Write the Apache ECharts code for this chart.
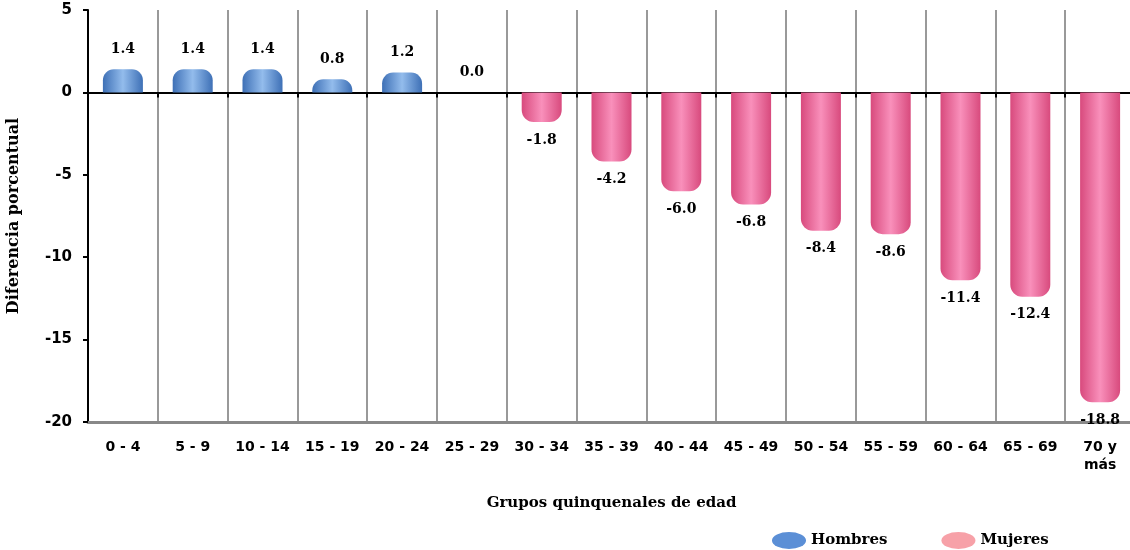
<!DOCTYPE html>
<html>
<head>
<meta charset="utf-8">
<script src="https://cdn.jsdelivr.net/npm/echarts@6/dist/echarts.min.js"></script>
<style>
  html, body { margin: 0; padding: 0; background: #fff; }
  #chart { width: 1130px; height: 550px; }
</style>
</head>
<body>
<div id="chart"></div>
<script>
// grupos de edad
var categories = ['0 - 4', '5 - 9', '10 - 14', '15 - 19', '20 - 24', '25 - 29', '30 - 34', '35 - 39',
  '40 - 44', '45 - 49', '50 - 54', '55 - 59', '60 - 64', '65 - 69', '70 y\nmás']
var hombresData = [1.4, 1.4, 1.4, 0.8, 1.2, 0.0, '-', '-', '-', '-', '-', '-', '-', '-', '-']
var mujeresData = ['-', '-', '-', '-', '-', '-', -1.8, -4.2, -6.0, -6.8, -8.4, -8.6, -11.4, -12.4, -18.8]
var yTicks = { min: -20, max: 5, interval: 5 }

var chart = echarts.init(document.getElementById('chart'))

var labelFont = {
  color: '#000',
  fontFamily: 'DejaVu Serif',
  fontWeight: 'bold',
  fontSize: 14,
  formatter: function (p) { return p.value.toFixed(1) }
}

function barGradient(edge, mid) {
  return new echarts.graphic.LinearGradient(0, 0, 1, 0, [
    { offset: 0, color: edge },
    { offset: 0.5, color: mid },
    { offset: 1, color: edge }
  ])
}

chart.setOption({
  animation: false,
  // el área se sale un poco por la derecha, como en el original
  grid: { left: 88, width: 1047, top: 10, bottom: 128, outerBoundsMode: 'none' },
  legend: {
    left: 767,
    top: 527,
    itemWidth: 34,
    itemHeight: 17,
    itemGap: 54,
    icon: 'path://M0,8 A16,8 0 1,1 32,8 A16,8 0 1,1 0,8 Z',
    textStyle: { fontFamily: 'DejaVu Serif', fontWeight: 'bold', fontSize: 15, color: '#000' },
    data: [
      { name: 'Hombres', itemStyle: { color: '#5b8fd6' } },
      { name: 'Mujeres', itemStyle: { color: '#f7a1a8' } }
    ]
  },
  xAxis: [
    {
      type: 'category',
      data: categories,
      axisLine: { onZero: true, lineStyle: { color: '#000', width: 2 } },
      axisTick: { show: true, length: 5, lineStyle: { color: '#000', width: 2 } },
      axisLabel: { show: false },
      splitLine: { show: true, lineStyle: { color: '#999', width: 2 } }
    },
    {
      type: 'category',
      data: categories,
      position: 'bottom',
      axisLine: { onZero: false, lineStyle: { color: '#888', width: 3 } },
      axisTick: { show: false },
      axisLabel: {
        interval: 0,
        margin: 16,
        color: '#000',
        fontFamily: 'DejaVu Sans',
        fontWeight: 'bold',
        fontSize: 14,
        lineHeight: 18
      },
      name: 'Grupos quinquenales de edad',
      nameLocation: 'middle',
      nameGap: 74,
      nameTextStyle: { fontFamily: 'DejaVu Serif', fontWeight: 'bold', fontSize: 15, color: '#000' }
    }
  ],
  yAxis: {
    type: 'value',
    min: yTicks.min,
    max: yTicks.max,
    interval: yTicks.interval,
    name: 'Diferencia porcentual',
    nameLocation: 'middle',
    nameGap: 66,
    nameTextStyle: { fontFamily: 'DejaVu Serif', fontWeight: 'bold', fontSize: 16, color: '#000' },
    axisLine: { show: true, lineStyle: { color: '#000', width: 2 } },
    axisTick: { show: true, length: 5, lineStyle: { color: '#000', width: 2 } },
    axisLabel: { margin: 16, color: '#000', fontFamily: 'DejaVu Sans', fontWeight: 'bold', fontSize: 15 },
    splitLine: { show: false }
  },
  series: [
    {
      name: 'Hombres',
      type: 'bar',
      stack: 'dif',
      xAxisIndex: 0,
      barWidth: 40,
      data: hombresData,
      itemStyle: { color: barGradient('#3e70b6', '#93bcec'), borderRadius: [11, 11, 0, 0] },
      label: Object.assign({ show: true, position: 'top', distance: 13 }, labelFont)
    },
    {
      name: 'Mujeres',
      type: 'bar',
      stack: 'dif',
      xAxisIndex: 0,
      barWidth: 40,
      data: mujeresData,
      itemStyle: { color: barGradient('#d84a7d', '#f990bb'), borderRadius: [0, 0, 12, 12] },
      label: Object.assign({ show: true, position: 'bottom', distance: 11 }, labelFont)
    }
  ]
})
</script>
</body>
</html>
